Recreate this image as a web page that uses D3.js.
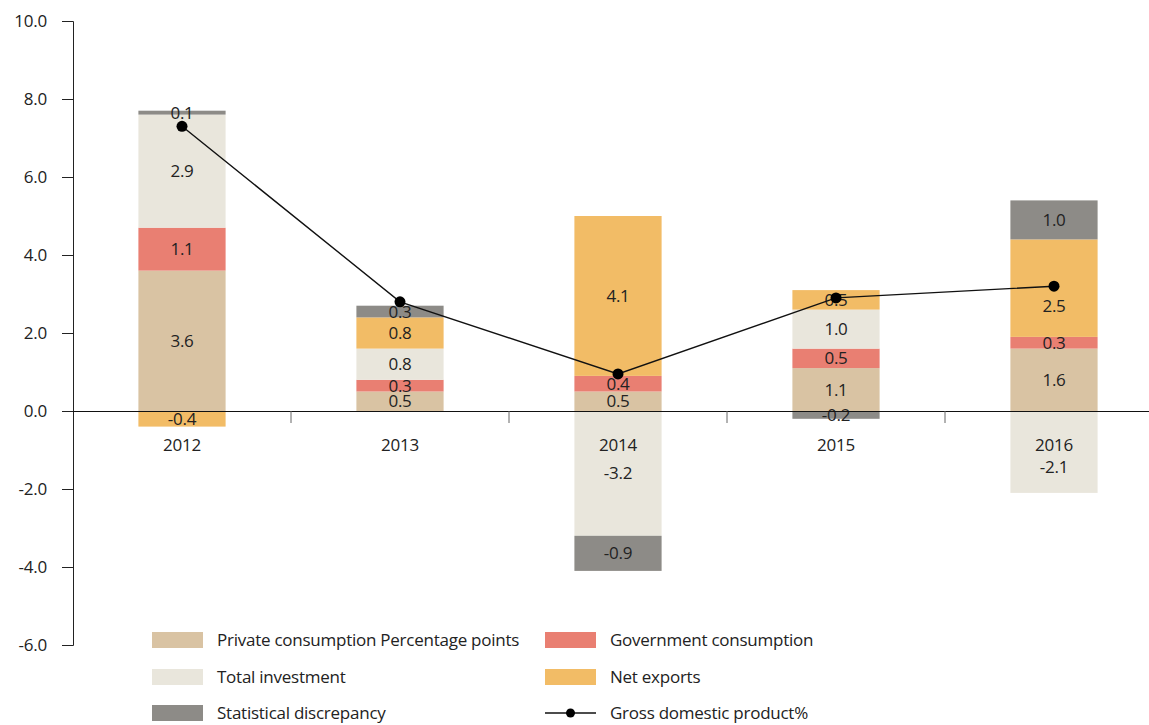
<!DOCTYPE html>
<head>
  <meta charset="utf-8">
  <script src="https://cdn.jsdelivr.net/npm/d3@7"></script>
  <style>
    body { margin: 0; background: #fff; }
    text {
      font-family: "Open Sans", sans-serif;
      font-size: 17px;
      letter-spacing: -0.25px;
      fill: #222;
    }
    .yAxis path.domain { stroke: #222; }
    .yAxis .tick line { stroke: #222; }
  </style>
</head>

<body>
  <svg width="1149" height="725"></svg>
  <script>
    // data
    const years = ["2012", "2013", "2014", "2015", "2016"];
    const seriesNames = ["Private consumption Percentage points", "Government consumption",
      "Total investment", "Net exports", "Statistical discrepancy"];
    const seriesKeys = ["private", "government", "investment", "netExports", "discrepancy"];
    const seriesColors = ["#d9c3a3", "#e97f72", "#e9e6dc", "#f2bc66", "#8d8b87"];

    const privateConsumption = [3.6, 0.5, 0.5, 1.1, 1.6];
    const governmentConsumption = [1.1, 0.3, 0.4, 0.5, 0.3];
    const totalInvestment = [2.9, 0.8, -3.2, 1.0, -2.1];
    const netExports = [-0.4, 0.8, 4.1, 0.5, 2.5];
    const statDiscrepancy = [0.1, 0.3, -0.9, -0.2, 1.0];
    const gdp = [7.3, 2.8, 0.95, 2.9, 3.2];

    const yTicks = [-6, -4, -2, 0, 2, 4, 6, 8, 10];

    const rows = years.map((y, i) => ({
      year: y,
      private: privateConsumption[i],
      government: governmentConsumption[i],
      investment: totalInvestment[i],
      netExports: netExports[i],
      discrepancy: statDiscrepancy[i],
      gdp: gdp[i]
    }));

    const svg = d3.select("svg");
    const margin = { top: 21, left: 73 };
    const plotBottom = 645;
    const fmt = v => d3.format(".1f")(v).replace("\u2212", "-");

    // scales
    let x = d3.scaleBand()
      .domain(years)
      .range([margin.left, margin.left + 5 * 218])
      .padding(0);
    let barWidth = x.bandwidth() * 0.4;
    let cx = d => x(d) + x.bandwidth() / 2;

    let y = d3.scaleLinear()
      .domain([-6, 10])
      .range([plotBottom, margin.top]);

    let color = d3.scaleOrdinal().domain(seriesKeys).range(seriesColors);

    // y axis
    svg.append("g")
      .attr("class", "yAxis")
      .attr("transform", `translate(${margin.left},0)`)
      .call(d3.axisLeft(y).tickValues(yTicks).tickSize(11).tickPadding(15).tickFormat(fmt))
      .call(g => g.selectAll(".tick text").style("font-size", "17px").attr("font-family", null));

    // stacked bars
    let stacked = d3.stack()
      .keys(seriesKeys)
      .offset(d3.stackOffsetDiverging)(rows);

    let layers = svg.append("g").selectAll("g.layer")
      .data(stacked)
      .enter()
      .append("g")
      .attr("class", "layer")
      .style("fill", d => color(d.key));

    layers.selectAll("rect")
      .data(d => d)
      .enter()
      .append("rect")
      .attr("x", d => x(d.data.year) + (x.bandwidth() - barWidth) / 2)
      .attr("y", d => y(Math.max(d[0], d[1])))
      .attr("width", barWidth)
      .attr("height", d => Math.abs(y(d[0]) - y(d[1])));

    // zero line and category ticks
    svg.append("line")
      .attr("x1", margin.left).attr("x2", 1149)
      .attr("y1", y(0)).attr("y2", y(0))
      .attr("stroke", "#111").attr("stroke-width", 1)
      .style("shape-rendering", "crispEdges");

    svg.selectAll("line.xTick")
      .data(years.slice(1))
      .enter()
      .append("line")
      .attr("class", "xTick")
      .attr("x1", d => x(d)).attr("x2", d => x(d))
      .attr("y1", y(0)).attr("y2", y(0) + 12)
      .attr("stroke", "#666").attr("stroke-width", 1);

    // year labels
    let yearY = y(0) + 40;
    svg.selectAll("text.year")
      .data(years)
      .enter()
      .append("text")
      .attr("class", "year")
      .attr("x", d => cx(d))
      .attr("y", yearY)
      .style("text-anchor", "middle")
      .text(d => d);

    // value labels, kept clear of the year label and of the gdp dot in tall segments
    let labelY = d => {
      let lo = Math.min(d[0], d[1]), hi = Math.max(d[0], d[1]);
      let mid = (y(lo) + y(hi)) / 2;
      let h = y(lo) - y(hi);
      if (hi == 0 && lo < 0 && h > 50) mid = Math.max(mid, yearY + 16);
      let dot = y(d.data.gdp);
      if (h > 40 && Math.abs(mid - dot) < 14) mid = dot + 20;
      return mid;
    };

    layers.selectAll("text")
      .data(d => d.map(v => Object.assign(v, { key: d.key })))
      .enter()
      .append("text")
      .attr("x", d => cx(d.data.year))
      .attr("y", labelY)
      .attr("dy", "0.35em")
      .style("text-anchor", "middle")
      .style("fill", "#222")
      .text(d => fmt(d.data[d.key]));

    // GDP line
    let line = d3.line()
      .x(d => cx(d.year))
      .y(d => y(d.gdp));

    svg.append("path")
      .datum(rows)
      .attr("d", line)
      .attr("fill", "none")
      .attr("stroke", "#111")
      .attr("stroke-width", 1.4);

    svg.selectAll("circle.gdp")
      .data(rows)
      .enter()
      .append("circle")
      .attr("class", "gdp")
      .attr("cx", d => cx(d.year))
      .attr("cy", d => y(d.gdp))
      .attr("r", 5.5)
      .attr("fill", "#000");

    // legend
    let legendItems = [
      { name: seriesNames[0], key: "private", col: 0, row: 0 },
      { name: seriesNames[1], key: "government", col: 1, row: 0 },
      { name: seriesNames[2], key: "investment", col: 0, row: 1 },
      { name: seriesNames[3], key: "netExports", col: 1, row: 1 },
      { name: seriesNames[4], key: "discrepancy", col: 0, row: 2 },
      { name: "Gross domestic product%", key: "gdp", col: 1, row: 2 }
    ];
    let colX = [152, 545];
    let rowY = [640, 677, 713];

    let legend = svg.append("g").selectAll("g.legendItem")
      .data(legendItems)
      .enter()
      .append("g")
      .attr("class", "legendItem")
      .attr("transform", d => `translate(${colX[d.col]},${rowY[d.row]})`);

    legend.filter(d => d.key != "gdp")
      .append("rect")
      .attr("x", 0).attr("y", -8)
      .attr("width", 51).attr("height", 16)
      .style("fill", d => color(d.key));

    let gdpItem = legend.filter(d => d.key == "gdp");
    gdpItem.append("line")
      .attr("x1", 0).attr("x2", 51)
      .attr("y1", 0).attr("y2", 0)
      .attr("stroke", "#111").attr("stroke-width", 1.4);
    gdpItem.append("circle")
      .attr("cx", 25.5).attr("cy", 0).attr("r", 4.5)
      .attr("fill", "#000");

    legend.append("text")
      .attr("x", 65)
      .attr("y", 0)
      .attr("dy", "0.35em")
      .text(d => d.name);
  </script>
</body>
